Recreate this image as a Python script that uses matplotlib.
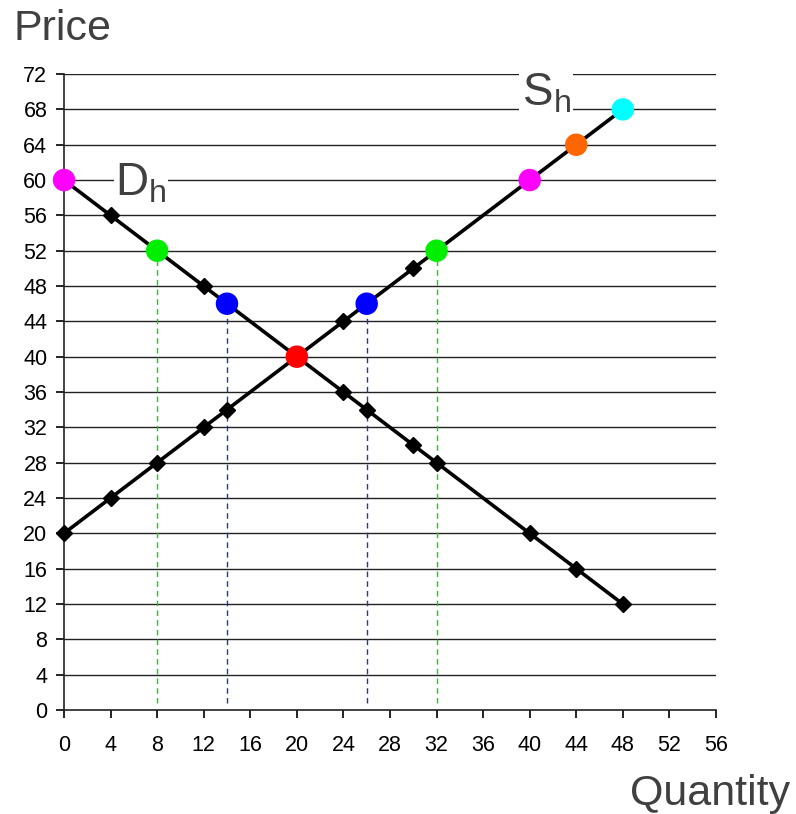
import matplotlib
matplotlib.use('Agg')
import matplotlib.pyplot as plt

plt.rcParams['font.family'] = ['Liberation Sans', 'DejaVu Sans']
plt.rcParams['mathtext.fontset'] = 'custom'
plt.rcParams['mathtext.rm'] = 'Liberation Sans'

# demand and supply curves (quantity, price)
demand_q = [0, 4, 8, 12, 14, 20, 24, 26, 30, 32, 40, 44, 48]
demand_p = [60, 56, 52, 48, 46, 40, 36, 34, 30, 28, 20, 16, 12]
supply_q = [0, 4, 8, 12, 14, 20, 24, 26, 30, 32, 40, 44, 48]
supply_p = [20, 24, 28, 32, 34, 40, 44, 46, 50, 52, 60, 64, 68]

# black diamond points
demand_dq = [4, 12, 24, 26, 30, 32, 40, 44, 48]
demand_dp = [56, 48, 36, 34, 30, 28, 20, 16, 12]
supply_dq = [0, 4, 8, 12, 14, 24, 30]
supply_dp = [20, 24, 28, 32, 34, 44, 50]

# coloured circle points
circle_q = [0, 8, 14, 20, 26, 32, 40, 44, 48]
circle_p = [60, 52, 46, 40, 46, 52, 60, 64, 68]
circle_c = ['#ff00ff', '#00ee00', '#0000ff', '#ff0000', '#0000ff',
            '#00ee00', '#ff00ff', '#ff6600', '#00ffff']

# dashed drop lines
drop_q = [8, 14, 26, 32]
drop_p = [52, 46, 46, 52]
drop_c = ['#00dd00', '#1a3aa8', '#1a3aa8', '#00dd00']

x_ticks = list(range(0, 57, 4))
y_ticks = list(range(0, 73, 4))

fig = plt.figure(figsize=(7.96, 8.14), dpi=100)
ax = fig.add_axes([0.0804, 0.1278, 0.819, 0.7812])

for y in y_ticks[1:]:
    ax.axhline(y, color='#222222', lw=1.0, zorder=1)

for q, p, c in zip(drop_q, drop_p, drop_c):
    ax.plot([q, q], [0.8, p], color=c, lw=1.0, ls=(0, (4, 3)), zorder=2)

ax.plot(demand_q, demand_p, color='black', lw=2.6, zorder=3)
ax.plot(supply_q, supply_p, color='black', lw=2.6, zorder=3)
ax.plot(demand_dq, demand_dp, 'D', color='black', ms=8, zorder=4, clip_on=False)
ax.plot(supply_dq, supply_dp, 'D', color='black', ms=8, zorder=4, clip_on=False)
ax.scatter(circle_q, circle_p, s=230, c=circle_c, zorder=5, clip_on=False)

ax.text(6.6, 59.6, r'D$_\mathrm{h}$', fontsize=33, color='#404040',
        ha='center', va='center', zorder=3,
        bbox=dict(facecolor='white', edgecolor='none', pad=1))
ax.text(41.4, 69.8, r'S$_\mathrm{h}$', fontsize=33, color='#404040',
        ha='center', va='center', zorder=3,
        bbox=dict(facecolor='white', edgecolor='none', pad=2))

ax.set_xlim(0, 56)
ax.set_ylim(0, 72)
ax.set_xticks(x_ticks)
ax.set_yticks(y_ticks)
ax.tick_params(labelsize=15.5, length=6, width=1.2, direction='out')
ax.tick_params(axis='x', pad=12)
ax.tick_params(axis='y', pad=6)
for s in ['top', 'right']:
    ax.spines[s].set_visible(False)
for s in ['left', 'bottom']:
    ax.spines[s].set_linewidth(1.2)
    ax.spines[s].set_color('#222222')

fig.text(0.017, 0.951, 'Price', fontsize=31, color='#404040', ha='left', va='baseline')
fig.text(0.993, 0.011, 'Quantity', fontsize=31, color='#404040', ha='right', va='baseline')

fig.savefig('out.png', dpi=100)
